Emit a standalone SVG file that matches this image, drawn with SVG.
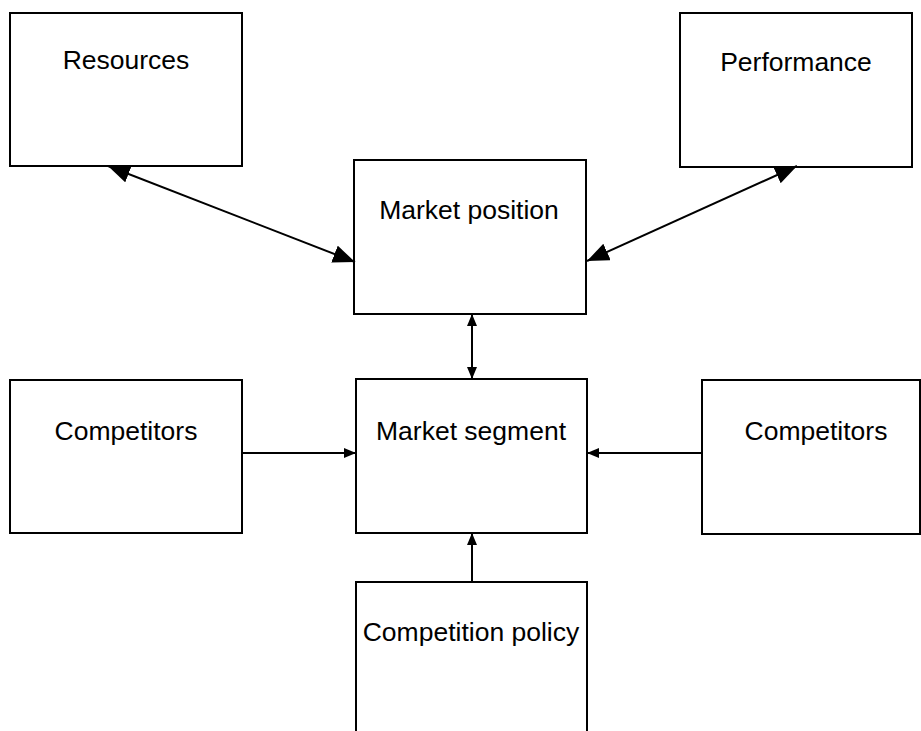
<svg xmlns="http://www.w3.org/2000/svg" width="921" height="731" viewBox="0 0 921 731">
<style>
.box{fill:#fff;stroke:#000;stroke-width:2}
.lbl{font-family:"Liberation Sans",Arial,sans-serif;font-size:26.5px;fill:#000;text-anchor:middle}
.con{stroke:#000;stroke-width:2;fill:none}
</style>
<defs>
<marker id="big" markerUnits="userSpaceOnUse" markerWidth="24" markerHeight="20" refX="22" refY="9" orient="auto-start-reverse">
<path d="M0,0 L22,9 L0,18 Z" fill="#000"/>
</marker>
<marker id="sm" markerUnits="userSpaceOnUse" markerWidth="14" markerHeight="12" refX="12" refY="5" orient="auto-start-reverse">
<path d="M0,0 L12,5 L0,10 Z" fill="#000"/>
</marker>
</defs>
<rect width="921" height="731" fill="#fff"/>
<g id="resources"><rect class="box" x="10" y="13" width="232" height="153"/><text class="lbl" x="126" y="69">Resources</text></g>
<g id="performance"><rect class="box" x="680" y="13" width="232" height="154"/><text class="lbl" x="796" y="71">Performance</text></g>
<g id="market-position"><rect class="box" x="354" y="160" width="232" height="154"/><text class="lbl" x="469" y="219">Market position</text></g>
<g id="market-segment"><rect class="box" x="356" y="379" width="231" height="154"/><text class="lbl" x="471" y="440">Market segment</text></g>
<g id="competitors-left"><rect class="box" x="10" y="380" width="232" height="153"/><text class="lbl" x="126" y="440">Competitors</text></g>
<g id="competitors-right"><rect class="box" x="702" y="380" width="218" height="154"/><text class="lbl" x="816" y="440">Competitors</text></g>
<g id="competition-policy"><rect class="box" x="356" y="582" width="231" height="160"/><text class="lbl" x="471" y="641">Competition policy</text></g>
<g id="connectors">
<line class="con" x1="108" y1="166" x2="355" y2="262" marker-start="url(#big)" marker-end="url(#big)"/>
<line class="con" x1="797" y1="166" x2="587" y2="261" marker-start="url(#big)" marker-end="url(#big)"/>
<line class="con" x1="472" y1="314" x2="472" y2="379" marker-start="url(#sm)" marker-end="url(#sm)"/>
<line class="con" x1="242" y1="453" x2="356" y2="453" marker-end="url(#sm)"/>
<line class="con" x1="702" y1="453" x2="587" y2="453" marker-end="url(#sm)"/>
<line class="con" x1="472" y1="582" x2="472" y2="533" marker-end="url(#sm)"/>
</g>
</svg>
